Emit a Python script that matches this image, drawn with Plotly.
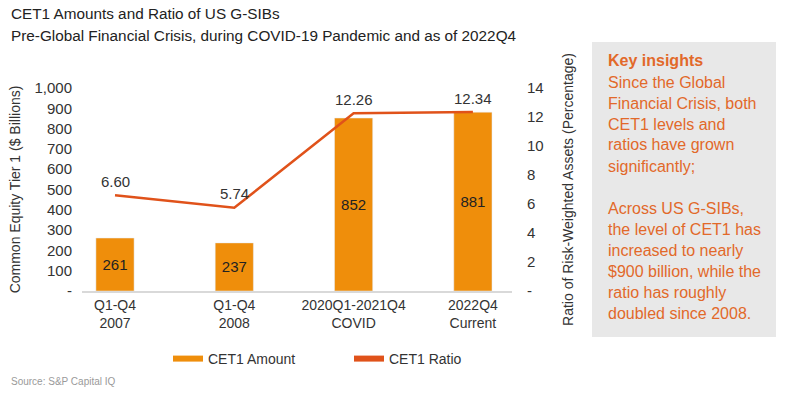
import plotly.graph_objects as go

categories = ["Q1-Q4<br>2007", "Q1-Q4<br>2008", "2020Q1-2021Q4<br>COVID", "2022Q4<br>Current"]
cet1_amount = [261, 237, 852, 881]
cet1_ratio = [6.60, 5.74, 12.26, 12.34]
left_ticks = [0, 100, 200, 300, 400, 500, 600, 700, 800, 900, 1000]
left_ticktext = ["-", "100", "200", "300", "400", "500", "600", "700", "800", "900", "1,000"]
right_ticks = [0, 2, 4, 6, 8, 10, 12, 14]
right_ticktext = ["-", "2", "4", "6", "8", "10", "12", "14"]
insight_lines = [
    "<b>Key insights</b>",
    "Since the Global",
    "Financial Crisis, both",
    "CET1 levels and",
    "ratios have grown",
    "significantly;",
    "",
    "Across US G-SIBs,",
    "the level of CET1 has",
    "increased to nearly",
    "$900 billion, while the",
    "ratio has roughly",
    "doubled since 2008.",
]

W, H = 788, 395
FONT = "Liberation Sans, Arial, sans-serif"
BAR_C = "#EF8E0B"
LINE_C = "#E0521A"
TXT_C = "#E2692A"

def px(x):
    return x / W

def py(y):
    return 1 - y / H

xs = list(range(len(categories)))

fig = go.Figure()
fig.add_trace(go.Bar(
    x=xs, y=cet1_amount, name="CET1 Amount", marker_color=BAR_C, width=0.32,
    text=[str(v) for v in cet1_amount], textposition="inside", insidetextanchor="middle",
    textfont=dict(family=FONT, size=15, color="#222222"), showlegend=False,
))
fig.add_trace(go.Scatter(
    x=xs, y=cet1_ratio, name="CET1 Ratio", yaxis="y2", mode="lines",
    line=dict(color=LINE_C, width=2.5), showlegend=False,
))
for xv, v in zip(xs, cet1_ratio):
    fig.add_annotation(x=xv, y=v, xref="x", yref="y2", yshift=14, text=f"{v:.2f}",
                       showarrow=False, font=dict(family=FONT, size=15, color="#333333"))
# legend entries
fig.add_trace(go.Scatter(x=[None], y=[None], mode="lines", name="CET1 Amount",
                         line=dict(color=BAR_C, width=6)))
fig.add_trace(go.Scatter(x=[None], y=[None], mode="lines", name="CET1 Ratio",
                         line=dict(color=LINE_C, width=6)))

x0, x1 = 82, 512
c0, step = 115, 119.3
fig.update_layout(
    width=W, height=H, margin=dict(l=0, r=0, t=0, b=0, autoexpand=False),
    paper_bgcolor="white", plot_bgcolor="white",
    font=dict(family=FONT, size=13, color="#444444"),
    xaxis=dict(domain=[px(x0), px(x1)], range=[-(c0 - x0) / step, 3 + (x1 - (c0 + 3 * step)) / step],
               tickvals=xs, ticktext=categories, showgrid=False, zeroline=False, automargin=False,
               showline=True, linecolor="#D9D9D9", linewidth=1.5, ticks="",
               tickfont=dict(family=FONT, size=14, color="#333333")),
    yaxis=dict(domain=[py(291), py(88)], range=[0, 1000], tickvals=left_ticks, ticktext=left_ticktext,
               showgrid=False, zeroline=False, showline=False, ticks="", ticklabelstandoff=9, automargin=False,
               tickfont=dict(family=FONT, size=15, color="#333333"),
               title=dict(text="Common Equity Tier 1 ($ Billions)", font=dict(family=FONT, size=14, color="#333333"), standoff=10)),
    yaxis2=dict(overlaying="y", side="right", range=[0, 14], tickvals=right_ticks, ticktext=right_ticktext,
                showgrid=False, zeroline=False, showline=False, ticks="", ticklabelstandoff=14, automargin=False,
                tickfont=dict(family=FONT, size=15, color="#333333"),
                title=dict(text="Ratio of Risk-Weighted Assets (Percentage)", font=dict(family=FONT, size=14, color="#333333"), standoff=20)),
    legend=dict(orientation="h", x=px(168), y=py(343), xanchor="left", yanchor="top",
                entrywidth=136, entrywidthmode="pixels",
                font=dict(family=FONT, size=14, color="#333333"), bgcolor="rgba(0,0,0,0)"),
    showlegend=True,
)

# titles
fig.add_annotation(x=px(9), y=py(14), xref="paper", yref="paper", xanchor="left", yanchor="middle",
                   text="CET1 Amounts and Ratio of US G-SIBs", showarrow=False,
                   font=dict(family=FONT, size=15.3, color="#222222"))
fig.add_annotation(x=px(9), y=py(35), xref="paper", yref="paper", xanchor="left", yanchor="middle",
                   text="Pre-Global Financial Crisis, during COVID-19 Pandemic and as of 2022Q4", showarrow=False,
                   font=dict(family=FONT, size=15.3, color="#222222"))
fig.add_annotation(x=px(9), y=py(381), xref="paper", yref="paper", xanchor="left", yanchor="middle",
                   text="Source: S&P Capital IQ", showarrow=False,
                   font=dict(family=FONT, size=10, color="#9A9A9A"))

# key insights box
fig.add_shape(type="rect", xref="paper", yref="paper", x0=px(592), x1=px(776), y0=py(337), y1=py(42),
              fillcolor="#E8E8E8", line=dict(width=0), layer="below")
for i, line in enumerate(insight_lines):
    if not line:
        continue
    fig.add_annotation(x=px(606), y=py(61 + i * 21), xref="paper", yref="paper", xanchor="left", yanchor="middle",
                       text=line, showarrow=False, font=dict(family=FONT, size=16, color=TXT_C))

fig.write_html("out.html", config={"displayModeBar": False},
               post_script="document.body.style.margin='0';document.body.style.overflow='hidden';")
